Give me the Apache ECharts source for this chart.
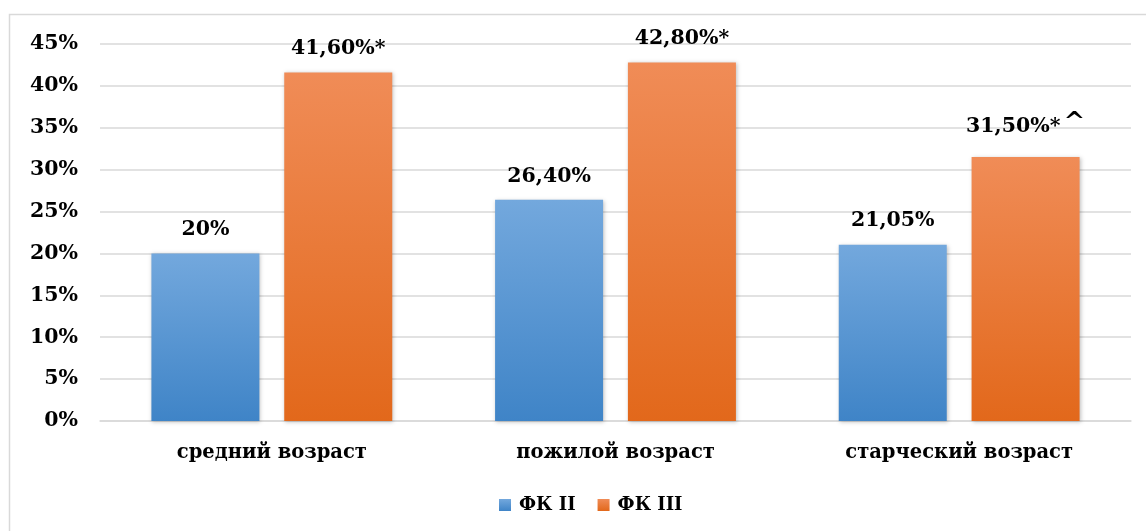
<!DOCTYPE html>
<html><head><meta charset="utf-8">
<script src="https://cdn.jsdelivr.net/npm/echarts@6/dist/echarts.min.js"></script>
<style>html,body{margin:0;padding:0;background:#fff}#c{width:1146px;height:531px}</style>
</head><body><div id="c"></div>
<script>
const categories = ['средний возраст', 'пожилой возраст', 'старческий возраст'];
const seriesNames = ['ФК II', 'ФК III'];
const fk2 = [20, 26.4, 21.05];
const fk3 = [41.6, 42.8, 31.5];
const fk2Labels = ['20%', '26,40%', '21,05%'];
const fk3Labels = ['41,60%*', '42,80%*', '31,50%*'];
const fk3Sup = ['', '', '^'];
const yTicks = [0, 5, 10, 15, 20, 25, 30, 35, 40, 45];

const font = 'DejaVu Serif';
const chart = echarts.init(document.getElementById('c'));
function grad(top, bottom){
  return new echarts.graphic.LinearGradient(0,0,0,1,[{offset:0,color:top},{offset:1,color:bottom}]);
}
chart.setOption({
  animation:false,
  graphic:[{type:'rect',shape:{x:9.5,y:14.5,width:1140,height:530},style:{fill:null,stroke:'#d9d9d9',lineWidth:1.5},silent:true}],
  grid:{left:100,right:15,top:44,bottom:110,containLabel:false},
  legend:{bottom:12,left:494,itemWidth:12,itemHeight:12,itemGap:22,icon:'rect',
    textStyle:{fontFamily:font,fontWeight:'bold',fontSize:18,color:'#000',padding:[0,0,0,3]},data:seriesNames},
  xAxis:{type:'category',data:categories,
    axisLine:{lineStyle:{color:'#d9d9d9',width:1.5}},axisTick:{show:false},
    axisLabel:{fontFamily:font,fontWeight:'bold',fontSize:19.5,color:'#000',margin:22}},
  yAxis:{type:'value',min:0,max:45,interval:5,
    axisLine:{show:false},axisTick:{show:false},
    splitLine:{lineStyle:{color:'#d9d9d9',width:1.5}},
    axisLabel:{fontFamily:font,fontWeight:'bold',fontSize:20.5,color:'#000',margin:22,
      formatter:v=>yTicks.includes(v)?v+'%':''}},
  series:[
    {name:seriesNames[0],type:'bar',data:fk2,barWidth:108,barGap:'23%',
      itemStyle:{color:grad('#73a8dd','#3f84c7'),shadowColor:'rgba(0,0,0,0.25)',shadowBlur:4,shadowOffsetX:1,shadowOffsetY:1},
      label:{show:true,position:'top',distance:13,fontFamily:font,fontWeight:'bold',fontSize:20.5,color:'#000',
        formatter:p=>fk2Labels[p.dataIndex]}},
    {name:seriesNames[1],type:'bar',data:fk3,barWidth:108,
      itemStyle:{color:grad('#f08c57','#e2681b'),shadowColor:'rgba(0,0,0,0.25)',shadowBlur:4,shadowOffsetX:1,shadowOffsetY:1},
      label:{show:true,position:'top',distance:13,fontFamily:font,fontWeight:'bold',fontSize:20.5,color:'#000',
        formatter:p=>fk3Labels[p.dataIndex]+(fk3Sup[p.dataIndex]?'{sup|'+fk3Sup[p.dataIndex]+'}':''),
        rich:{sup:{fontFamily:font,fontWeight:'bold',fontSize:26,color:'#000',verticalAlign:'bottom',padding:[0,0,8,3]}}}}
  ]
});
</script></body></html>
